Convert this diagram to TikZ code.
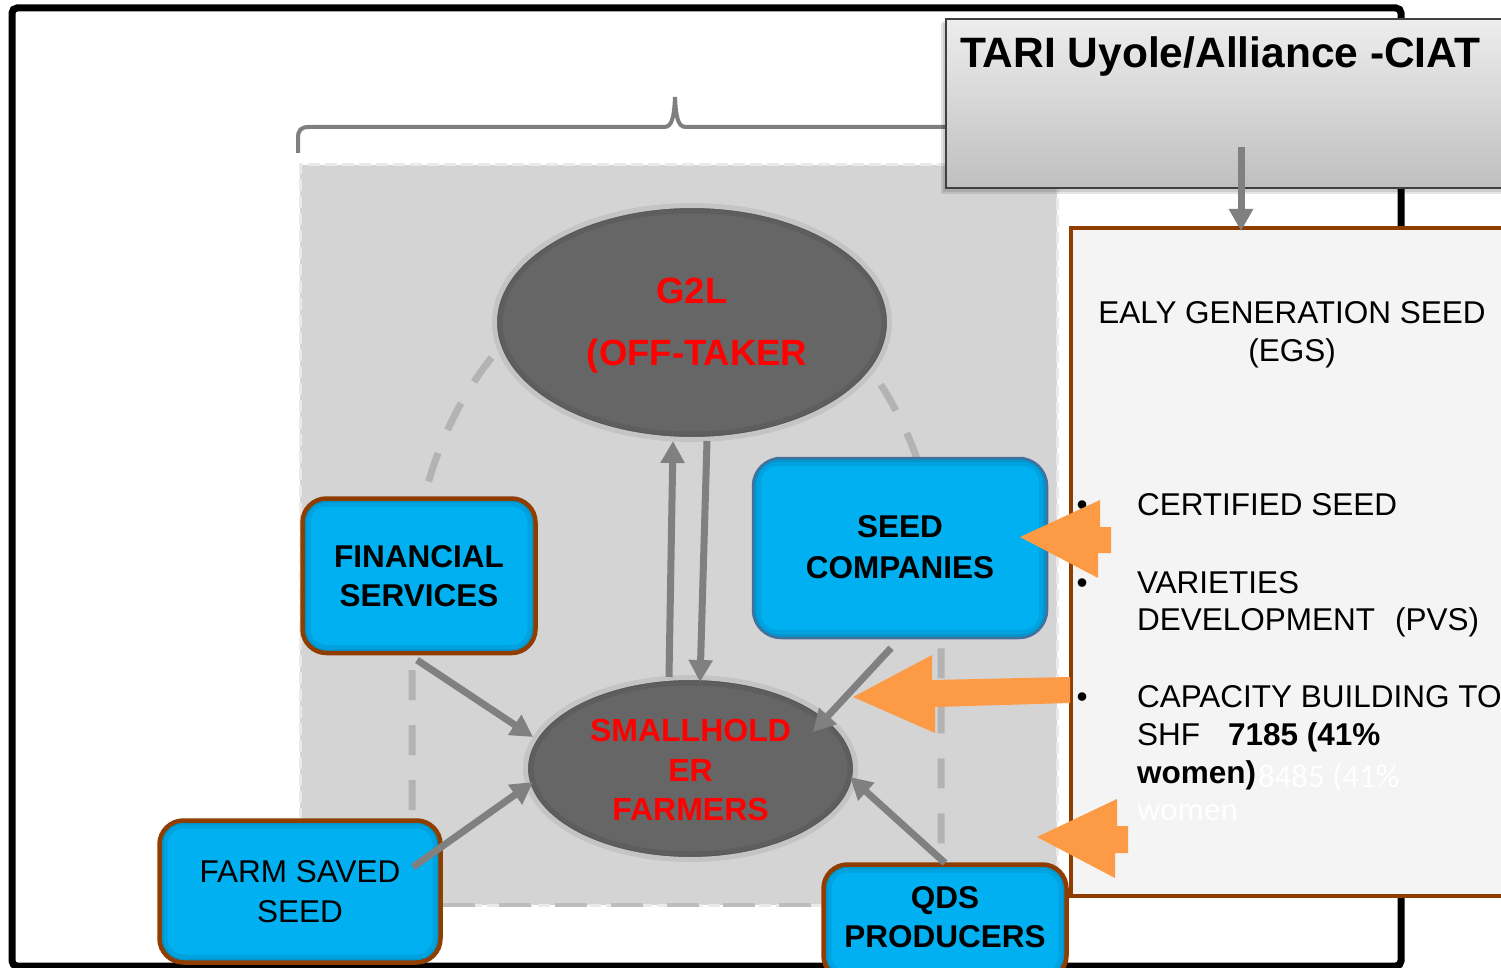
\documentclass[tikz,border=0pt]{standalone}
\usepackage{fontspec}
\setmainfont{Liberation Sans}
\newfontfamily\calfont{Carlito}
\usetikzlibrary{arrows.meta,shapes.geometric}
\definecolor{cblue}{HTML}{00B0F0}
\definecolor{cbrown}{HTML}{8F3D00}
\definecolor{cgrayarrow}{HTML}{808080}
\definecolor{corange}{HTML}{FD9A45}
\definecolor{cregion}{HTML}{D4D4D4}
\definecolor{cedge}{HTML}{EAEAEA}
\definecolor{cbottom}{HTML}{BDBDBD}
\definecolor{cellipse}{HTML}{666666}
\definecolor{crim}{HTML}{C4C4C4}
\definecolor{cdash}{HTML}{B3B3B3}
\definecolor{cpanel}{HTML}{F4F4F4}
\definecolor{cscborder}{HTML}{41719C}
\definecolor{cbrace}{HTML}{7F7F7F}
\definecolor{ctari}{HTML}{404040}
\begin{document}
\begin{tikzpicture}[x=1pt,y=-1pt,
  every node/.style={inner sep=0pt, outer sep=0pt},
  % rounded box with a soft inner shadow along its edge
  bluebox/.style={rectangle, rounded corners=24pt, fill=cblue, draw=cbrown, line width=4.5pt,
    path picture={
      \draw[black, opacity=0.07, line width=16pt, rounded corners=24pt]
        (path picture bounding box.south west) rectangle (path picture bounding box.north east);
      \draw[black, opacity=0.08, line width=8pt, rounded corners=24pt]
        (path picture bounding box.south west) rectangle (path picture bounding box.north east);
    }},
  % ellipse with a soft inner shadow; arguments are the two radii
  blob/.style 2 args={ellipse, fill=cellipse, draw=crim, line width=5pt,
    minimum width=2*#1, minimum height=2*#2,
    path picture={
      \draw[black, opacity=0.08, line width=16pt]
        (path picture bounding box.center) ellipse [x radius=#1, y radius=#2];
      \draw[black, opacity=0.08, line width=7pt]
        (path picture bounding box.center) ellipse [x radius=#1, y radius=#2];
    }},
  txt/.style={anchor=base, font=\fontsize{31.5}{38}\selectfont},
  ltxt/.style={anchor=base west, font=\fontsize{31.5}{38}\selectfont},
  btxt/.style={anchor=base, font=\fontsize{31.5}{38}\selectfont\bfseries},
  rtxt/.style={anchor=base, text=red, font=\fontsize{32}{38}\selectfont\bfseries},
  gtxt/.style={anchor=base, text=red, font=\fontsize{36.5}{44}\selectfont\bfseries},
  wtxt/.style={anchor=base west, text=white, font=\fontsize{33}{40}\selectfont\calfont},
  gconn/.style={draw=cgrayarrow, line width=7pt, -{Triangle[length=22pt,width=23pt]}},
]
\useasboundingbox (0,0) rectangle (1501,968);
\fill[white] (0,0) rectangle (1501,968);

% outer frame
\draw[line width=7pt, rounded corners=5pt] (12,8) rectangle (1401,966);

% brace over the value-chain group
\draw[cbrace, line width=4pt] (298,153) -- (298,138) .. controls (298,130) and (301,127) .. (309,127)
  -- (664,127) .. controls (672,127) and (674,118) .. (675,97)
  .. controls (676,118) and (678,127) .. (686,127) -- (950,127);

% grey group area
\fill[cregion] (300,165) rectangle (1057,905);
\draw[cedge, line width=3pt, dash pattern=on 12pt off 5pt] (300,905) -- (300,165) -- (1057,165) -- (1057,905);
\draw[cedge, line width=3pt, dash pattern=on 12pt off 5pt] (300,905) -- (1057,905);
\draw[cbottom, line width=4pt, dash pattern=on 32pt off 24pt] (443,905) -- (820,905);

% dashed loop
\draw[cdash, line width=7pt, dash pattern=on 30pt off 25pt] (412,810) -- (412,600)
  arc[start angle=180, end angle=0, x radius=264.5pt, y radius=339pt] -- (941,860);

% TARI box
\fill[black, opacity=0.10] (941,23) rectangle (1520,194);
\fill[black, opacity=0.10] (943,21) rectangle (1520,192);
\node[draw=ctari, line width=2pt, top color=white!93!black, bottom color=white!75!black,
      minimum width=574pt, minimum height=169pt] (tari) at (1233,103.5) {};
\node[anchor=base west, font=\fontsize{42.5}{50}\selectfont\bfseries] (taritext) at (960,68) {TARI Uyole/Alliance -CIAT};

% information panel
\node[draw=cbrown, fill=cpanel, line width=4.5pt, minimum width=449pt, minimum height=668pt] (info) at (1295.5,562) {};
\node[txt] (egs1) at (1292,323) {EALY GENERATION SEED};
\node[txt] (egs2) at (1292,361) {(EGS)};
\node[ltxt] (b1) at (1076.5,515) {•};
\node[ltxt] (b2) at (1076.5,593) {•};
\node[ltxt] (b3) at (1076.5,707) {•};
\node[ltxt] (l1) at (1137,515) {CERTIFIED SEED};
\node[ltxt] (l2) at (1137,593) {VARIETIES};
\node[ltxt] (l3) at (1137,630) {DEVELOPMENT\hspace{20pt}(PVS)};
\node[ltxt] (l4) at (1137,707) {CAPACITY BUILDING TO};
\node[ltxt] (l5) at (1137,745) {SHF\hspace{28pt}\textbf{7185 (41\%}};
\node[ltxt] (l6) at (1137,783) {\textbf{women)}};
\node[wtxt] (w1) at (1258,787) {8485 (41\%};
\node[wtxt] (w2) at (1137,820) {women};

% actors
\node[blob={197.5pt}{117pt}] (g2l) at (692,322.5) {};
\node[gtxt] (g2la) at (692,303) {G2L};
\node[gtxt] (g2lb) at (697,365) {(OFF-TAKER};

\node[blob={165pt}{91pt}] (sh) at (690.5,768.5) {};
\node[rtxt] (sha) at (690.5,741) {SMALLHOLD};
\node[rtxt] (shb) at (690.5,781) {ER};
\node[rtxt] (shc) at (690.5,820) {FARMERS};

\node[bluebox, minimum width=233pt, minimum height=154.5pt] (fin) at (419,575.75) {};
\node[btxt] (fina) at (419,567) {FINANCIAL};
\node[btxt] (finb) at (419,606) {SERVICES};

\node[bluebox, draw=cscborder, line width=2.5pt, rounded corners=28pt,
      minimum width=294pt, minimum height=180pt] (sc) at (900,548) {};
\node[btxt] (sca) at (900,537) {SEED};
\node[btxt] (scb) at (900,578) {COMPANIES};

\node[bluebox, minimum width=281pt, minimum height=142pt] (farm) at (300,891.5) {};
\node[txt] (farma) at (300,882) {FARM SAVED};
\node[txt] (farmb) at (300,922) {SEED};

\node[bluebox, minimum width=243pt, minimum height=115pt] (qds) at (945,922) {};
\node[btxt] (qdsa) at (945,908) {QDS};
\node[btxt] (qdsb) at (945,947) {PRODUCERS};

% grey flows
\draw[gconn] ([xshift=8pt,yshift=-43.5pt]tari.center) -- ([xshift=-54.5pt,yshift=331pt]info.center);
\draw[gconn] ([xshift=-21.5pt,yshift=91.5pt]sh.center) -- ([xshift=-19pt,yshift=-118.5pt]g2l.center);
\draw[gconn] ([xshift=15pt,yshift=-118.5pt]g2l.center) -- ([xshift=9.5pt,yshift=86.5pt]sh.center);
\draw[gconn] ([xshift=-2pt,yshift=-84.25pt]fin.center) -- ([xshift=-157.5pt,yshift=31.5pt]sh.center);
\draw[gconn] ([xshift=113pt,yshift=24.5pt]farm.center) -- ([xshift=-157.5pt,yshift=-13.5pt]sh.center);
\draw[gconn] ([xshift=-9pt,yshift=-100pt]sc.center) -- ([xshift=122.5pt,yshift=36.5pt]sh.center);
\draw[gconn] ([xshift=0pt,yshift=59pt]qds.center) -- ([xshift=159.5pt,yshift=-8.5pt]sh.center);

% orange block arrows from the panel
\fill[corange] (1020,537) -- (1100,500) -- (1100,527) -- (1111,527) -- (1111,553) -- (1098,553) -- (1098,578) -- cycle;
\fill[corange] (853,697) -- (932,655) -- (932,680) -- (1070,677) -- (1070,703) -- (935,707) -- (935,733) -- cycle;
\fill[corange] (1037,837) -- (1117,799) -- (1117,826) -- (1128,826) -- (1128,853) -- (1115,853) -- (1115,878) -- cycle;
\end{tikzpicture}
\end{document}
